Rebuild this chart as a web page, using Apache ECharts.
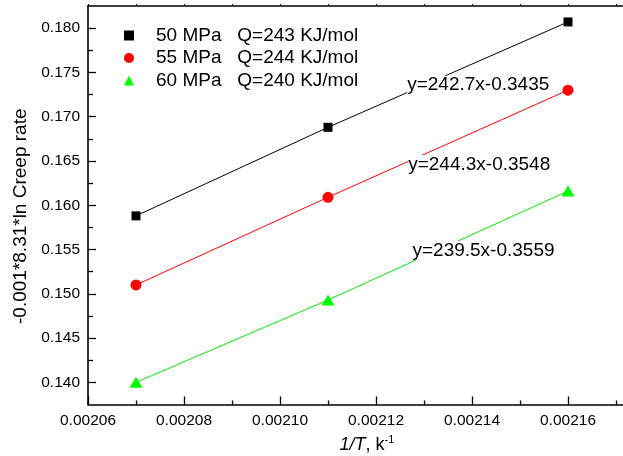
<!DOCTYPE html>
<html><head><meta charset="utf-8">
<script src="https://cdn.jsdelivr.net/npm/echarts@6/dist/echarts.min.js"></script>
<style>html,body{margin:0;padding:0;background:#fff}#c{width:623px;height:456px}</style>
</head><body><div id="c"></div>
<script>
const xValues = [0.00207, 0.00211, 0.00216];
const s50 = [0.1588, 0.1688, 0.1807];
const s55 = [0.1510, 0.1609, 0.1730];
const s60 = [0.1400, 0.1493, 0.1616];
const seriesNames = ['50 MPa   Q=243 KJ/mol', '55 MPa   Q=244 KJ/mol', '60 MPa   Q=240 KJ/mol'];
const fitLabels = ['y=242.7x-0.3435', 'y=244.3x-0.3548', 'y=239.5x-0.3559'];
const xMajor = [0.00206, 0.00208, 0.00210, 0.00212, 0.00214, 0.00216, 0.00218];
const xMinor = [0.00207, 0.00209, 0.00211, 0.00213, 0.00215, 0.00217];
const yMajor = [0.140, 0.145, 0.150, 0.155, 0.160, 0.165, 0.170, 0.175, 0.180];
const yMinor = [0.1425, 0.1475, 0.1525, 0.1575, 0.1625, 0.1675, 0.1725, 0.1775];

const FONT = "Arial, 'Liberation Sans', sans-serif";
const chart = echarts.init(document.getElementById('c'), null, {renderer: 'canvas'});
const X_MIN = 0.00206, X_MAX = 0.00218, Y_MIN = 0.1375, Y_MAX = 0.1825;
const axisLine = {show: true, onZero: false, lineStyle: {color: '#000', width: 1.6}};

function pts(ys) { return xValues.map((x, i) => [x, ys[i]]); }

const option = {
  animation: false,
  backgroundColor: '#fff',
  grid: {left: 88, right: -41, top: 6, bottom: 51.5, containLabel: false, outerBoundsMode: 'none'},
  xAxis: [
    {type: 'value', min: X_MIN, max: X_MAX, position: 'bottom',
     axisLine: axisLine, splitLine: {show: false},
     axisTick: {show: true, inside: true, length: 8, customValues: xMajor, lineStyle: {color: '#000', width: 1.3}},
     axisLabel: {show: true, customValues: xMajor, margin: 8, color: '#000', fontSize: 15.5, fontFamily: FONT,
                 formatter: v => v.toFixed(5)},
     name: '{i|1/T}{n|, k}{s|-1}', nameLocation: 'middle', nameGap: 30,
     nameTextStyle: {padding: [0, 18, 0, 0], rich: {
       i: {fontStyle: 'italic', fontSize: 18, fontFamily: FONT, color: '#000'},
       n: {fontSize: 18, fontFamily: FONT, color: '#000'},
       s: {fontSize: 11, fontFamily: FONT, color: '#000', verticalAlign: 'top', padding: [0, 0, 10, 0]}
     }}},
    {type: 'value', min: X_MIN, max: X_MAX, position: 'bottom',
     axisLine: {show: false}, splitLine: {show: false},
     axisTick: {show: true, inside: true, length: 4, customValues: xMinor, lineStyle: {color: '#000', width: 1.3}},
     axisLabel: {show: false}},
    {type: 'value', min: X_MIN, max: X_MAX, position: 'top',
     axisLine: axisLine, splitLine: {show: false},
     axisTick: {show: true, inside: false, length: 2, customValues: xMajor.concat(xMinor), lineStyle: {color: '#000', width: 1}},
     axisLabel: {show: false}}
  ],
  yAxis: [
    {type: 'value', min: Y_MIN, max: Y_MAX, position: 'left',
     axisLine: axisLine, splitLine: {show: false},
     axisTick: {show: true, inside: true, length: 8, customValues: yMajor, lineStyle: {color: '#000', width: 1.3}},
     axisLabel: {show: true, customValues: yMajor, margin: 8, color: '#000', fontSize: 15.5, fontFamily: FONT,
                 formatter: v => v.toFixed(3)},
     name: '-0.001*8.31*ln Creep rate', nameLocation: 'middle', nameGap: 51, nameRotate: 90,
     nameTextStyle: {color: '#000', fontSize: 19, fontFamily: FONT, padding: [0, 22, 0, 0]}},
    {type: 'value', min: Y_MIN, max: Y_MAX, position: 'left',
     axisLine: {show: false}, splitLine: {show: false},
     axisTick: {show: true, inside: true, length: 5, customValues: yMinor, lineStyle: {color: '#000', width: 1.3}},
     axisLabel: {show: false}}
  ],
  legend: {
    show: true, orient: 'vertical', left: 124, top: 26, padding: 0, itemGap: 3.5,
    itemWidth: 10, itemHeight: 10,
    data: [
      {name: seriesNames[0], icon: 'rect'},
      {name: seriesNames[1], icon: 'circle'},
      {name: seriesNames[2], icon: 'triangle'}
    ],
    formatter: n => '{a|' + n + '}',
    textStyle: {rich: {a: {fontSize: 19, fontFamily: FONT, color: '#000', lineHeight: 20, padding: [0, 0, 0, 17]}}}
  },
  series: [
    {name: seriesNames[0], type: 'line', data: pts(s50), symbol: 'rect', symbolSize: 9,
     lineStyle: {color: '#000', width: 1}, itemStyle: {color: '#000'}},
    {name: seriesNames[1], type: 'line', data: pts(s55), symbol: 'circle', symbolSize: 11,
     lineStyle: {color: '#ff0000', width: 1}, itemStyle: {color: '#ff0000'}},
    {name: seriesNames[2], type: 'line', data: pts(s60), symbol: 'triangle', symbolSize: [13, 11],
     lineStyle: {color: '#00ee00', width: 1}, itemStyle: {color: '#00ff00'}},
    {name: 'fits', type: 'scatter', symbolSize: 0, z: 10, silent: true,
     itemStyle: {opacity: 1},
     data: [
       {name: fitLabels[0], value: [0.0021413, 0.17355]},
       {name: fitLabels[1], value: [0.0021415, 0.16461]},
       {name: fitLabels[2], value: [0.0021424, 0.15488]}
     ],
     label: {show: true, position: 'inside', formatter: p => p.name, color: '#000', opacity: 1, fontSize: 19,
             fontFamily: FONT, backgroundColor: '#fff', padding: [0, 0]}}
  ]
};
chart.setOption(option);
</script>
</body></html>
